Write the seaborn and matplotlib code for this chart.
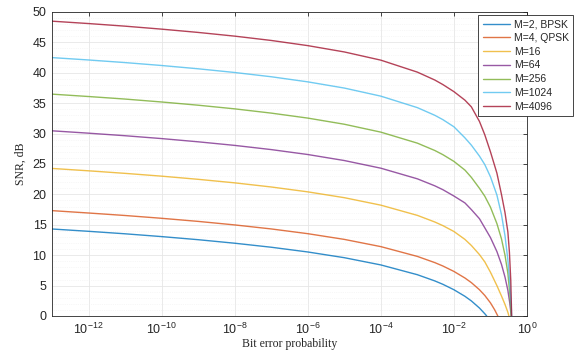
import matplotlib
matplotlib.use("Agg")
import matplotlib.pyplot as plt
import seaborn as sns
import pandas as pd
from matplotlib.ticker import MultipleLocator, NullLocator, LogFormatterMathtext

# ---------------- data ----------------
labels = ["M=2, BPSK", "M=4, QPSK", "M=16", "M=64", "M=256", "M=1024", "M=4096"]
colors = ["#0072BD", "#D95319", "#EDB120", "#7E2F8E", "#77AC30", "#4DBEEE", "#A2142F"]

ber_low = [1e-13, 1e-12, 1e-11, 1e-10, 1e-9, 1e-8, 1e-7, 1e-6, 1e-5, 1e-4, 1e-3, 3e-3, 5e-3, 1e-2]

bpsk_ber = ber_low + [0.02, 0.03, 0.05, 0.07, 0.079]
bpsk_snr = [14.31, 13.93, 13.52, 13.06, 12.55, 11.97, 11.31, 10.53, 9.59, 8.40, 6.79, 5.77, 5.21, 4.32,
            3.24, 2.48, 1.31, 0.37, 0.0]

qpsk_ber = ber_low + [0.02, 0.03, 0.05, 0.07, 0.1, 0.13, 0.159]
qpsk_snr = [17.33, 16.94, 16.53, 16.07, 15.56, 14.98, 14.32, 13.54, 12.60, 11.41, 9.80, 8.78, 8.22, 7.33,
            6.25, 5.49, 4.32, 3.38, 2.16, 1.03, 0.0]

qam16_ber = ber_low + [0.02, 0.03, 0.05, 0.07, 0.1, 0.15, 0.2, 0.25, 0.3, 0.32]
qam16_snr = [24.27, 23.88, 23.46, 23.00, 22.48, 21.90, 21.22, 20.42, 19.46, 18.23, 16.55, 15.46, 14.86, 13.90,
             12.6, 11.6, 10.1, 8.9, 7.2, 5.0, 3.3, 1.9, 0.6, 0.0]

qam64_ber = ber_low + [0.02, 0.03, 0.05, 0.07, 0.1, 0.15, 0.2, 0.25, 0.3, 0.34, 0.37]
qam64_snr = [30.46, 30.07, 29.65, 29.18, 28.65, 28.06, 27.37, 26.56, 25.57, 24.31, 22.56, 21.41, 20.77, 19.73,
             18.6, 17.5, 16.0, 14.5, 12.9, 10.6, 8.5, 6.4, 4.2, 2.0, 0.0]

qam256_ber = ber_low + [0.02, 0.03, 0.05, 0.07, 0.1, 0.15, 0.2, 0.25, 0.3, 0.34, 0.37]
qam256_snr = [36.49, 36.10, 35.68, 35.20, 34.67, 34.07, 33.37, 32.55, 31.54, 30.24, 28.43, 27.22, 26.53, 25.43,
              24.0, 22.8, 21.0, 19.7, 17.9, 15.2, 12.7, 10.0, 7.0, 3.5, 0.0]

qam1024_ber = ber_low + [0.02, 0.03, 0.05, 0.07, 0.1, 0.15, 0.2, 0.25, 0.3, 0.34, 0.37, 0.38]
qam1024_snr = [42.50, 42.11, 41.68, 41.20, 40.66, 40.05, 39.35, 38.51, 37.49, 36.16, 34.27, 33.01, 32.29, 31.12,
               29.3, 28.1, 26.3, 24.9, 22.9, 19.9, 16.7, 13.2, 9.2, 5.2, 1.6, 0.0]

qam4096_ber = ber_low + [0.02, 0.03, 0.05, 0.07, 0.1, 0.15, 0.2, 0.25, 0.3, 0.33, 0.36, 0.38]
qam4096_snr = [48.49, 48.10, 47.67, 47.18, 46.64, 46.03, 45.32, 44.47, 43.43, 42.08, 40.11, 38.81, 38.06, 36.9,
               35.5, 34.4, 32.0, 29.8, 27.0, 23.5, 20.0, 17.0, 13.8, 10.5, 5.8, 0.0]

x_ticks = [1e-12, 1e-10, 1e-8, 1e-6, 1e-4, 1e-2, 1e0]
y_ticks = [0, 5, 10, 15, 20, 25, 30, 35, 40, 45, 50]

series_ber = [bpsk_ber, qpsk_ber, qam16_ber, qam64_ber, qam256_ber, qam1024_ber, qam4096_ber]
series_snr = [bpsk_snr, qpsk_snr, qam16_snr, qam64_snr, qam256_snr, qam1024_snr, qam4096_snr]

frames = []
for lab, b, s in zip(labels, series_ber, series_snr):
    frames.append(pd.DataFrame({"ber": b, "snr": s, "label": lab}))
df = pd.concat(frames, ignore_index=True)

# ---------------- figure ----------------
sns.set_style("white")
plt.rcParams["font.family"] = ["Liberation Sans", "DejaVu Sans"]
plt.rcParams["mathtext.fontset"] = "custom"
plt.rcParams["mathtext.rm"] = "Liberation Sans"
plt.rcParams["mathtext.it"] = "Liberation Sans:italic"

fig = plt.figure(figsize=(5.74, 3.59), dpi=100)
ax = fig.add_axes([52 / 574, 1 - 316 / 359, 475 / 574, 304 / 359])

sns.lineplot(data=df, x="ber", y="snr", hue="label", hue_order=labels,
             palette=dict(zip(labels, colors)), estimator=None, sort=False,
             linewidth=1.0, alpha=0.8, ax=ax, legend=True)

ax.set_xscale("log")
ax.set_xlim(1e-13, 1e0)
ax.set_ylim(0, 50)
ax.set_xticks(x_ticks)
ax.xaxis.set_major_formatter(LogFormatterMathtext())
ax.xaxis.set_minor_locator(NullLocator())
ax.set_yticks(y_ticks)
ax.yaxis.set_minor_locator(MultipleLocator(1))

ax.grid(True, which="major", color="#e6e6e6", linewidth=0.6)
ax.grid(True, which="minor", axis="y", color="#f0f0f0", linewidth=0.5, linestyle=":")
ax.set_axisbelow(True)

ax.tick_params(axis="both", which="major", direction="in", length=3, width=0.6,
               top=True, right=True, labelsize=9, colors="#262626", pad=4)
ax.tick_params(axis="y", which="minor", length=0)
for sp in ax.spines.values():
    sp.set_color("#262626")
    sp.set_linewidth(0.6)

ax.set_xlabel("Bit error probability", family=["Liberation Serif"], fontsize=8.5, color="#262626", labelpad=1)
ax.set_ylabel("SNR, dB", family=["Liberation Serif"], fontsize=8.5, color="#262626", labelpad=4)

leg = ax.legend(loc="upper right", bbox_to_anchor=(1.097, 0.99), fontsize=7.5,
                frameon=True, fancybox=False, edgecolor="#262626", handlelength=2.6,
                labelspacing=0.36, borderpad=0.4, handletextpad=0.4, borderaxespad=0)
leg.get_frame().set_linewidth(0.6)
leg.get_frame().set_alpha(1.0)

fig.savefig("out.png", dpi=100)
